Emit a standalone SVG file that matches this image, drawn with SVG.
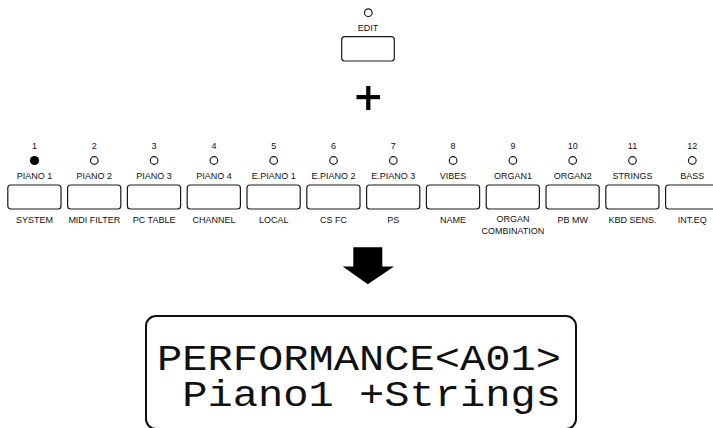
<svg xmlns="http://www.w3.org/2000/svg" width="713" height="428" viewBox="0 0 713 428">
<style>
.t{font-family:"Liberation Sans",Arial,sans-serif;font-size:9px;fill:#111;text-anchor:middle}
.btn{fill:#fff;stroke:#1a1a1a;stroke-width:1.2}
.led{fill:#fff;stroke:#1a1a1a;stroke-width:1.2}
.lcd{font-family:"Liberation Mono","Courier New",monospace;font-size:36px;fill:#111}
</style>
<rect width="713" height="428" fill="#fff"/>
<g id="edit">
<circle class="led" cx="368.3" cy="12.7" r="3.8"/>
<text class="t" x="368" y="30.5">EDIT</text>
<rect class="btn" x="341.7" y="36.7" width="52.6" height="24.3" rx="3"/>
</g>
<g id="plus">
<rect x="356.5" y="95" width="23.5" height="4.2" fill="#000"/>
<rect x="366.2" y="86" width="4.2" height="24" fill="#000"/>
</g>
<g id="b1"><text class="t" x="34.5" y="149">1</text><circle cx="34.5" cy="160.5" r="4.6" fill="#000"/><text class="t" x="34.5" y="179">PIANO 1</text><rect class="btn" x="7.8" y="185" width="53.2" height="24" rx="3"/><text class="t" x="34.5" y="223">SYSTEM</text></g>
<g id="b2"><text class="t" x="94.3" y="149">2</text><circle class="led" cx="94.3" cy="160.5" r="3.8"/><text class="t" x="94.3" y="179">PIANO 2</text><rect class="btn" x="67.6" y="185" width="53.2" height="24" rx="3"/><text class="t" x="94.3" y="223">MIDI FILTER</text></g>
<g id="b3"><text class="t" x="154.1" y="149">3</text><circle class="led" cx="154.1" cy="160.5" r="3.8"/><text class="t" x="154.1" y="179">PIANO 3</text><rect class="btn" x="127.4" y="185" width="53.2" height="24" rx="3"/><text class="t" x="154.1" y="223">PC TABLE</text></g>
<g id="b4"><text class="t" x="213.9" y="149">4</text><circle class="led" cx="213.9" cy="160.5" r="3.8"/><text class="t" x="213.9" y="179">PIANO 4</text><rect class="btn" x="187.2" y="185" width="53.2" height="24" rx="3"/><text class="t" x="213.9" y="223">CHANNEL</text></g>
<g id="b5"><text class="t" x="273.7" y="149">5</text><circle class="led" cx="273.7" cy="160.5" r="3.8"/><text class="t" x="273.7" y="179">E.PIANO 1</text><rect class="btn" x="247" y="185" width="53.2" height="24" rx="3"/><text class="t" x="273.7" y="223">LOCAL</text></g>
<g id="b6"><text class="t" x="333.5" y="149">6</text><circle class="led" cx="333.5" cy="160.5" r="3.8"/><text class="t" x="333.5" y="179">E.PIANO 2</text><rect class="btn" x="306.8" y="185" width="53.2" height="24" rx="3"/><text class="t" x="333.5" y="223">CS FC</text></g>
<g id="b7"><text class="t" x="393.3" y="149">7</text><circle class="led" cx="393.3" cy="160.5" r="3.8"/><text class="t" x="393.3" y="179">E.PIANO 3</text><rect class="btn" x="366.6" y="185" width="53.2" height="24" rx="3"/><text class="t" x="393.3" y="223">PS</text></g>
<g id="b8"><text class="t" x="453.1" y="149">8</text><circle class="led" cx="453.1" cy="160.5" r="3.8"/><text class="t" x="453.1" y="179">VIBES</text><rect class="btn" x="426.4" y="185" width="53.2" height="24" rx="3"/><text class="t" x="453.1" y="223">NAME</text></g>
<g id="b9"><text class="t" x="512.9" y="149">9</text><circle class="led" cx="512.9" cy="160.5" r="3.8"/><text class="t" x="512.9" y="179">ORGAN1</text><rect class="btn" x="486.2" y="185" width="53.2" height="24" rx="3"/><text class="t" x="512.9" y="222">ORGAN</text><text class="t" x="512.9" y="233.5">COMBINATION</text></g>
<g id="b10"><text class="t" x="572.7" y="149">10</text><circle class="led" cx="572.7" cy="160.5" r="3.8"/><text class="t" x="572.7" y="179">ORGAN2</text><rect class="btn" x="546" y="185" width="53.2" height="24" rx="3"/><text class="t" x="572.7" y="223">PB MW</text></g>
<g id="b11"><text class="t" x="632.5" y="149">11</text><circle class="led" cx="632.5" cy="160.5" r="3.8"/><text class="t" x="632.5" y="179">STRINGS</text><rect class="btn" x="605.8" y="185" width="53.2" height="24" rx="3"/><text class="t" x="632.5" y="223">KBD SENS.</text></g>
<g id="b12"><text class="t" x="692.3" y="149">12</text><circle class="led" cx="692.3" cy="160.5" r="3.8"/><text class="t" x="692.3" y="179">BASS</text><rect class="btn" x="665.6" y="185" width="53.2" height="24" rx="3"/><text class="t" x="692.3" y="223">INT.EQ</text></g>
<g id="arrow">
<polygon points="353.3,247.3 382.3,247.3 382.3,266.5 394,266.5 367.8,284.3 342.7,266.5 353.3,266.5" fill="#000"/>
</g>
<g id="lcd">
<rect x="146" y="316" width="430" height="113" rx="10" fill="#fff" stroke="#111" stroke-width="2"/>
<text class="lcd" x="157" y="370" textLength="404" lengthAdjust="spacingAndGlyphs">PERFORMANCE&lt;A01&gt;</text>
<text class="lcd" x="182.3" y="406" textLength="378.7" lengthAdjust="spacingAndGlyphs">Piano1 +Strings</text>
</g>
</svg>
